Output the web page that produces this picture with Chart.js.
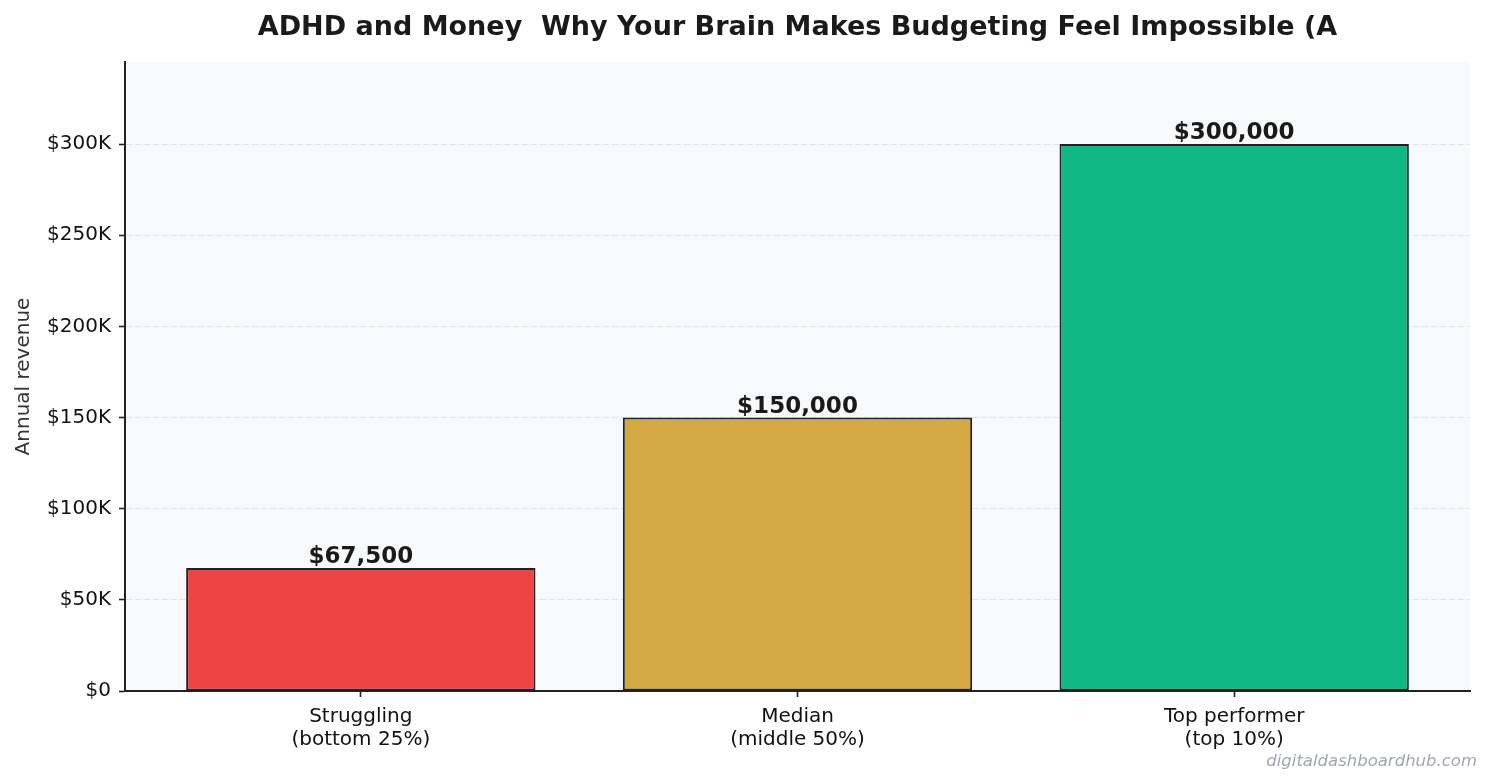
<!DOCTYPE html>
<html>
<head>
<meta charset="utf-8">
<script src="https://cdn.jsdelivr.net/npm/chart.js@4.4.1/dist/chart.umd.min.js"></script>
<style>
  html, body { margin: 0; padding: 0; background: #ffffff; }
  #wrap { width: 1492px; height: 783px; position: relative; }
</style>
</head>
<body>
<div id="wrap"><canvas id="c" width="1492" height="783"></canvas></div>
<script>
// ---- data ----
const titleText = "ADHD and Money  Why Your Brain Makes Budgeting Feel Impossible (A";
const categories = [["Struggling", "(bottom 25%)"], ["Median", "(middle 50%)"], ["Top performer", "(top 10%)"]];
const revenues = [67500, 150000, 300000];
const valueLabels = ["$67,500", "$150,000", "$300,000"];
const yTickValues = [0, 50000, 100000, 150000, 200000, 250000, 300000];
const yTickLabels = ["$0", "$50K", "$100K", "$150K", "$200K", "$250K", "$300K"];
const barColors = ["#ef4444", "#d4a843", "#10b981"];
const yAxisTitle = "Annual revenue";
const watermark = "digitaldashboardhub.com";

const FONT = "'DejaVu Sans', 'Liberation Sans', sans-serif";

const overlay = {
  id: 'overlay',
  beforeDraw(chart) {
    const { ctx, chartArea: a } = chart;
    ctx.save();
    ctx.fillStyle = '#ffffff';
    ctx.fillRect(0, 0, chart.width, chart.height);
    ctx.fillStyle = '#f8f9fa';
    ctx.fillRect(a.left, a.top, a.right - a.left, a.bottom - a.top);
    ctx.restore();
  },
  afterDraw(chart) {
    const { ctx, chartArea: a } = chart;
    ctx.save();
    // title
    ctx.fillStyle = '#1a1a1a';
    ctx.font = "bold 27px " + FONT;
    ctx.textAlign = 'center';
    ctx.textBaseline = 'alphabetic';
    ctx.fillText(titleText, (a.left + a.right) / 2, 35);
    // value labels
    const meta = chart.getDatasetMeta(0);
    ctx.font = "bold 23px " + FONT;
    ctx.fillStyle = '#1a1a1a';
    meta.data.forEach((bar, i) => {
      ctx.fillText(valueLabels[i], bar.x, bar.y - 5);
    });
    // watermark
    ctx.font = "italic 16.5px " + FONT;
    ctx.fillStyle = '#a0a6b4';
    ctx.textAlign = 'right';
    ctx.fillText(watermark, 1477, 766);
    ctx.restore();
  }
};

new Chart(document.getElementById('c'), {
  type: 'bar',
  data: {
    datasets: [{
      data: revenues.map((v, i) => ({ x: i, y: v })),
      backgroundColor: barColors,
      borderColor: '#1f2228',
      borderWidth: 2,
      borderSkipped: false,
      barPercentage: 0.8,
      categoryPercentage: 1.0
    }]
  },
  options: {
    responsive: false,
    animation: false,
    devicePixelRatio: 1,
    layout: { padding: { top: 62, right: 22, bottom: 0, left: 0 } },
    plugins: { legend: { display: false }, tooltip: { enabled: false }, title: { display: false } },
    scales: {
      x: {
        type: 'linear',
        offset: false,
        min: -0.54,
        max: 2.54,
        afterBuildTicks(scale) { scale.ticks = categories.map((c, i) => ({ value: i })); },
        afterFit(scale) { scale.height = 92; },
        ticks: {
          autoSkip: false,
          maxRotation: 0,
          padding: 8,
          color: '#111111',
          font: { family: FONT, size: 20, lineHeight: 1.15 },
          callback: (v) => categories[v]
        },
        grid: { offset: false, drawOnChartArea: false, drawTicks: true, tickLength: 6, tickColor: '#222', tickWidth: 1.6 },
        border: { display: true, color: '#222', width: 2 }
      },
      y: {
        min: 0,
        max: 345000,
        afterBuildTicks(scale) { scale.ticks = yTickValues.map(v => ({ value: v })); },
        afterFit(scale) { scale.width = 125; },
        ticks: {
          padding: 8,
          color: '#111111',
          font: { family: FONT, size: 20 },
          callback: (v) => yTickLabels[yTickValues.indexOf(v)]
        },
        grid: {
          color: '#e1e3e6',
          lineWidth: 1,
          drawTicks: true,
          tickLength: 6,
          tickColor: '#222',
          tickWidth: 1.6,
          tickBorderDash: []
        },
        border: { display: true, color: '#222', width: 2, dash: [6, 3] },
        title: {
          display: true,
          text: yAxisTitle,
          color: '#333333',
          font: { family: FONT, size: 20 },
          padding: { top: 12, bottom: 0 }
        }
      }
    }
  },
  plugins: [overlay]
});
</script>
</body>
</html>
